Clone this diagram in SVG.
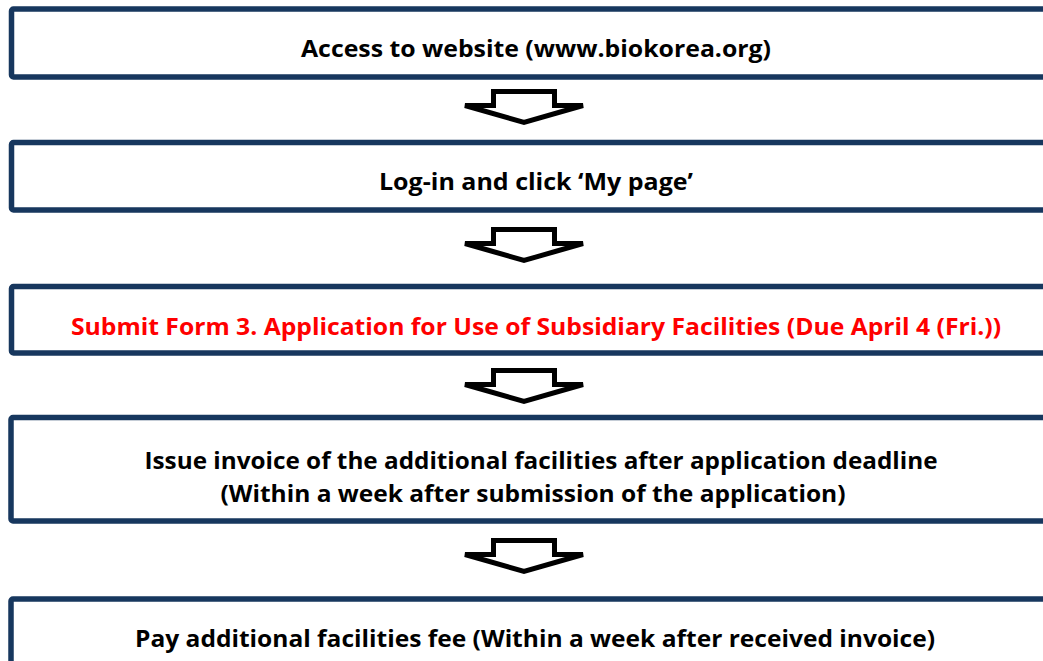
<svg xmlns="http://www.w3.org/2000/svg" width="1043" height="661" viewBox="0 0 1043 661">
<style>
.box{fill:#fff;stroke:#17375E;stroke-width:5.5}
.arrow{fill:#fff;stroke:#000;stroke-width:5;stroke-linejoin:miter}
.t{font-family:"Open Sans",Lato,sans-serif;font-weight:bold;font-size:24px;fill:#000;text-anchor:middle}
.red{fill:#FF0000}
</style>
<defs>
<path id="darrow" d="M493.5,0 H554.5 V14 H583 L524,31 L465,14 H493.5 Z"/>
</defs>
<rect width="1043" height="661" fill="#fff"/>
<g id="node1">
<rect class="box" x="11.5" y="9" width="1060" height="68" rx="2"/>
<text class="t" x="536" y="57" textLength="470" lengthAdjust="spacingAndGlyphs">Access to website (www.biokorea.org)</text>
</g>
<g id="node2">
<rect class="box" x="11.5" y="142.5" width="1060" height="67.5" rx="2"/>
<text class="t" x="536" y="190" textLength="314" lengthAdjust="spacingAndGlyphs">Log-in and click ‘My page’</text>
</g>
<g id="node3">
<rect class="box" x="11.5" y="286.5" width="1060" height="66.5" rx="2"/>
<text class="t red" x="536" y="335" textLength="930" lengthAdjust="spacingAndGlyphs">Submit Form 3. Application for Use of Subsidiary Facilities (Due April 4 (Fri.))</text>
</g>
<g id="node4">
<rect class="box" x="11" y="417.5" width="1060" height="103.5" rx="2"/>
<text class="t" x="541" y="469" textLength="793" lengthAdjust="spacingAndGlyphs">Issue invoice of the additional facilities after application deadline</text>
<text class="t" x="533" y="502" textLength="625" lengthAdjust="spacingAndGlyphs">(Within a week after submission of the application)</text>
</g>
<g id="node5">
<rect class="box" x="11" y="599" width="1060" height="80" rx="2"/>
<text class="t" x="535" y="647" textLength="800" lengthAdjust="spacingAndGlyphs">Pay additional facilities fee (Within a week after received invoice)</text>
</g>
<g id="connectors">
<use href="#darrow" class="arrow" transform="translate(0,91.5)"/>
<use href="#darrow" class="arrow" transform="translate(0,229.5)"/>
<use href="#darrow" class="arrow" transform="translate(0,370.5)"/>
<use href="#darrow" class="arrow" transform="translate(0,540.5)"/>
</g>
</svg>
